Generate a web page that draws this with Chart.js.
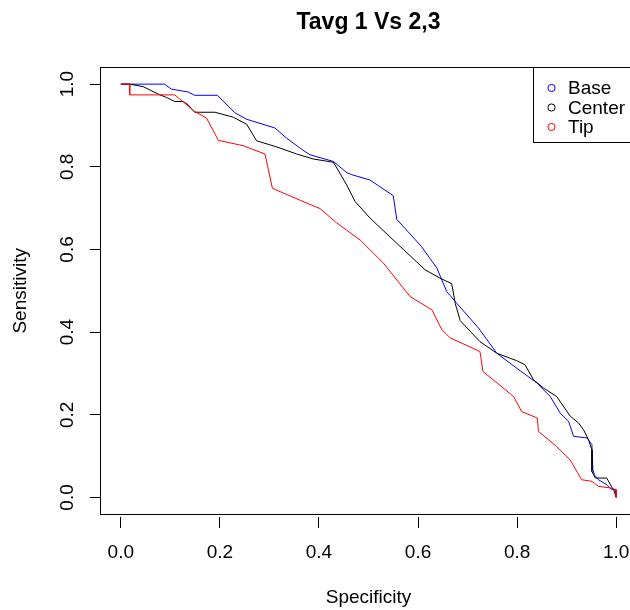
<!DOCTYPE html>
<html>
<head>
<meta charset="utf-8">
<title>Tavg 1 Vs 2,3</title>
<script src="https://cdn.jsdelivr.net/npm/chart.js@4"></script>
<style>
  html, body { margin: 0; padding: 0; background: #fff; overflow: hidden; }
  canvas { display: block; }
</style>
</head>
<body>
<canvas id="roc" width="660" height="610"></canvas>
<script>
//? ROC curves (specificity, sensitivity)
const baseSpec = [0, 0.088, 0.102, 0.136, 0.149, 0.195, 0.230, 0.254, 0.311, 0.335, 0.362, 0.382, 0.429, 0.456, 0.466, 0.503, 0.550, 0.557, 0.607, 0.638, 0.658, 0.678, 0.722, 0.759, 0.800, 0.840, 0.867, 0.887, 0.904, 0.914, 0.941, 0.951, 0.953, 0.956, 0.964, 0.981, 0.991, 0.998, 1]
const baseSens = [1, 1, 0.988, 0.981, 0.973, 0.973, 0.931, 0.915, 0.894, 0.869, 0.845, 0.829, 0.813, 0.786, 0.781, 0.768, 0.730, 0.673, 0.607, 0.555, 0.498, 0.470, 0.410, 0.349, 0.312, 0.277, 0.244, 0.204, 0.184, 0.148, 0.144, 0.128, 0.067, 0.055, 0.043, 0.031, 0.019, 0.019, 0]

const centerSpec = [0, 0.018, 0.045, 0.079, 0.092, 0.109, 0.126, 0.136, 0.149, 0.190, 0.227, 0.254, 0.274, 0.315, 0.355, 0.388, 0.429, 0.442, 0.456, 0.473, 0.503, 0.557, 0.614, 0.644, 0.668, 0.675, 0.685, 0.725, 0.759, 0.799, 0.816, 0.833, 0.853, 0.880, 0.907, 0.924, 0.934, 0.944, 0.951, 0.951, 0.958, 0.981, 0.991, 0.995, 1]
const centerSens = [1, 1, 0.994, 0.974, 0.968, 0.958, 0.958, 0.950, 0.932, 0.932, 0.920, 0.903, 0.863, 0.848, 0.831, 0.819, 0.811, 0.785, 0.756, 0.716, 0.676, 0.615, 0.551, 0.531, 0.517, 0.470, 0.428, 0.377, 0.349, 0.331, 0.321, 0.285, 0.265, 0.244, 0.197, 0.180, 0.164, 0.140, 0.115, 0.063, 0.047, 0.047, 0.025, 0.019, 0]

const tipSpec = [0, 0.018, 0.018, 0.109, 0.129, 0.149, 0.173, 0.197, 0.247, 0.291, 0.306, 0.362, 0.402, 0.436, 0.483, 0.530, 0.584, 0.628, 0.648, 0.665, 0.725, 0.731, 0.793, 0.809, 0.841, 0.843, 0.880, 0.907, 0.922, 0.930, 0.951, 0.964, 0.988, 1, 1]
const tipSens = [1, 1, 0.974, 0.974, 0.954, 0.934, 0.918, 0.864, 0.851, 0.831, 0.748, 0.719, 0.699, 0.664, 0.623, 0.567, 0.486, 0.454, 0.406, 0.386, 0.353, 0.305, 0.244, 0.208, 0.192, 0.160, 0.123, 0.091, 0.060, 0.043, 0.039, 0.027, 0.023, 0.019, 0]

//? Axis ticks
const xTicks = [0, 0.2, 0.4, 0.6, 0.8, 1.0]
const yTicks = [0, 0.2, 0.4, 0.6, 0.8, 1.0]

const seriesNames = ['Base', 'Center', 'Tip']
const seriesColors = ['#0000FF', '#000000', '#FF0000']

const FONT = '"Liberation Sans", Arial, Helvetica, sans-serif'

function toPoints(xs, ys) {
  return xs.map((x, i) => ({ x: x, y: ys[i] }))
}

//* R style box round the plot + topright legend
const rFrame = {
  id: 'rFrame',
  afterDraw(chart) {
    const ctx = chart.ctx
    const a = chart.chartArea
    ctx.save()
    ctx.strokeStyle = '#000'
    ctx.lineWidth = 1
    ctx.strokeRect(Math.round(a.left) - 0.5, Math.round(a.top) - 0.5,
      Math.round(a.right - a.left) + 1, Math.round(a.bottom - a.top) + 1)

    // legend
    const lx = 533, ly = Math.round(a.top) - 0.5
    const lw = Math.round(a.right) - lx, lh = 75
    ctx.fillStyle = '#fff'
    ctx.fillRect(lx + 0.5, ly + 0.5, lw, lh)
    ctx.strokeRect(lx + 0.5, ly, lw, lh)
    ctx.font = '19px ' + FONT
    ctx.textBaseline = 'middle'
    ctx.textAlign = 'left'
    chart.data.datasets.forEach((ds, i) => {
      const y = ly + 20.5 + i * 19.5
      ctx.beginPath()
      ctx.arc(551.5, y, 3.6, 0, Math.PI * 2)
      ctx.strokeStyle = ds.borderColor
      ctx.stroke()
      ctx.fillStyle = '#000'
      ctx.fillText(ds.label, 568, y + 1)
    })
    ctx.restore()
  }
}

let ctx = document.getElementById('roc').getContext('2d')

let chart = new Chart(ctx, {
  type: 'scatter',
  data: {
    datasets: [
      { label: seriesNames[0], data: toPoints(baseSpec, baseSens), borderColor: seriesColors[0], order: 3 },
      { label: seriesNames[1], data: toPoints(centerSpec, centerSens), borderColor: seriesColors[1], order: 2 },
      { label: seriesNames[2], data: toPoints(tipSpec, tipSens), borderColor: seriesColors[2], order: 1 },
    ].map(d => Object.assign(d, { showLine: true, pointRadius: 0, borderWidth: 1, fill: false, tension: 0 }))
  },
  options: {
    responsive: false,
    animation: false,
    layout: { padding: { left: 0, right: 24, top: 0, bottom: 0 } },
    plugins: {
      legend: { display: false },
      tooltip: { enabled: false },
      title: {
        display: true,
        fullSize: false,
        text: 'Tavg 1 Vs 2,3',
        color: '#000',
        font: { family: FONT, size: 23, weight: 'bold' },
        padding: { top: 9, bottom: 31 }
      }
    },
    scales: {
      x: {
        type: 'linear',
        min: -0.04,
        max: 1.04,
        afterBuildTicks: s => { s.ticks = xTicks.map(v => ({ value: v })) },
        afterFit: s => { s.height = 96 },
        ticks: {
          callback: v => v.toFixed(1),
          color: '#000',
          font: { family: FONT, size: 19 },
          padding: 13,
          maxRotation: 0,
          autoSkip: false
        },
        // ticks sit a little below the box, like the R axis
        grid: { drawOnChartArea: false, tickLength: 14, color: '#000', tickBorderDash: [11, 3], tickBorderDashOffset: 11 },
        border: { display: false },
        title: {
          display: true,
          text: 'Specificity',
          color: '#000',
          font: { family: FONT, size: 19 },
          padding: { top: 0, bottom: 1 }
        }
      },
      y: {
        type: 'linear',
        min: -0.04,
        max: 1.04,
        afterBuildTicks: s => { s.ticks = yTicks.map(v => ({ value: v })) },
        afterFit: s => { s.width = 101 },
        ticks: {
          callback: v => v.toFixed(1),
          color: '#000',
          font: { family: FONT, size: 19 },
          padding: 9.5,
          minRotation: 90,
          maxRotation: 90,
          crossAlign: 'center',
          autoSkip: false
        },
        grid: { drawOnChartArea: false, tickLength: 11, color: '#000' },
        border: { display: false },
        title: {
          display: true,
          text: 'Sensitivity',
          color: '#000',
          font: { family: FONT, size: 19 },
          padding: { top: 9, bottom: 0 }
        }
      }
    }
  },
  plugins: [rFrame]
})
</script>
</body>
</html>
